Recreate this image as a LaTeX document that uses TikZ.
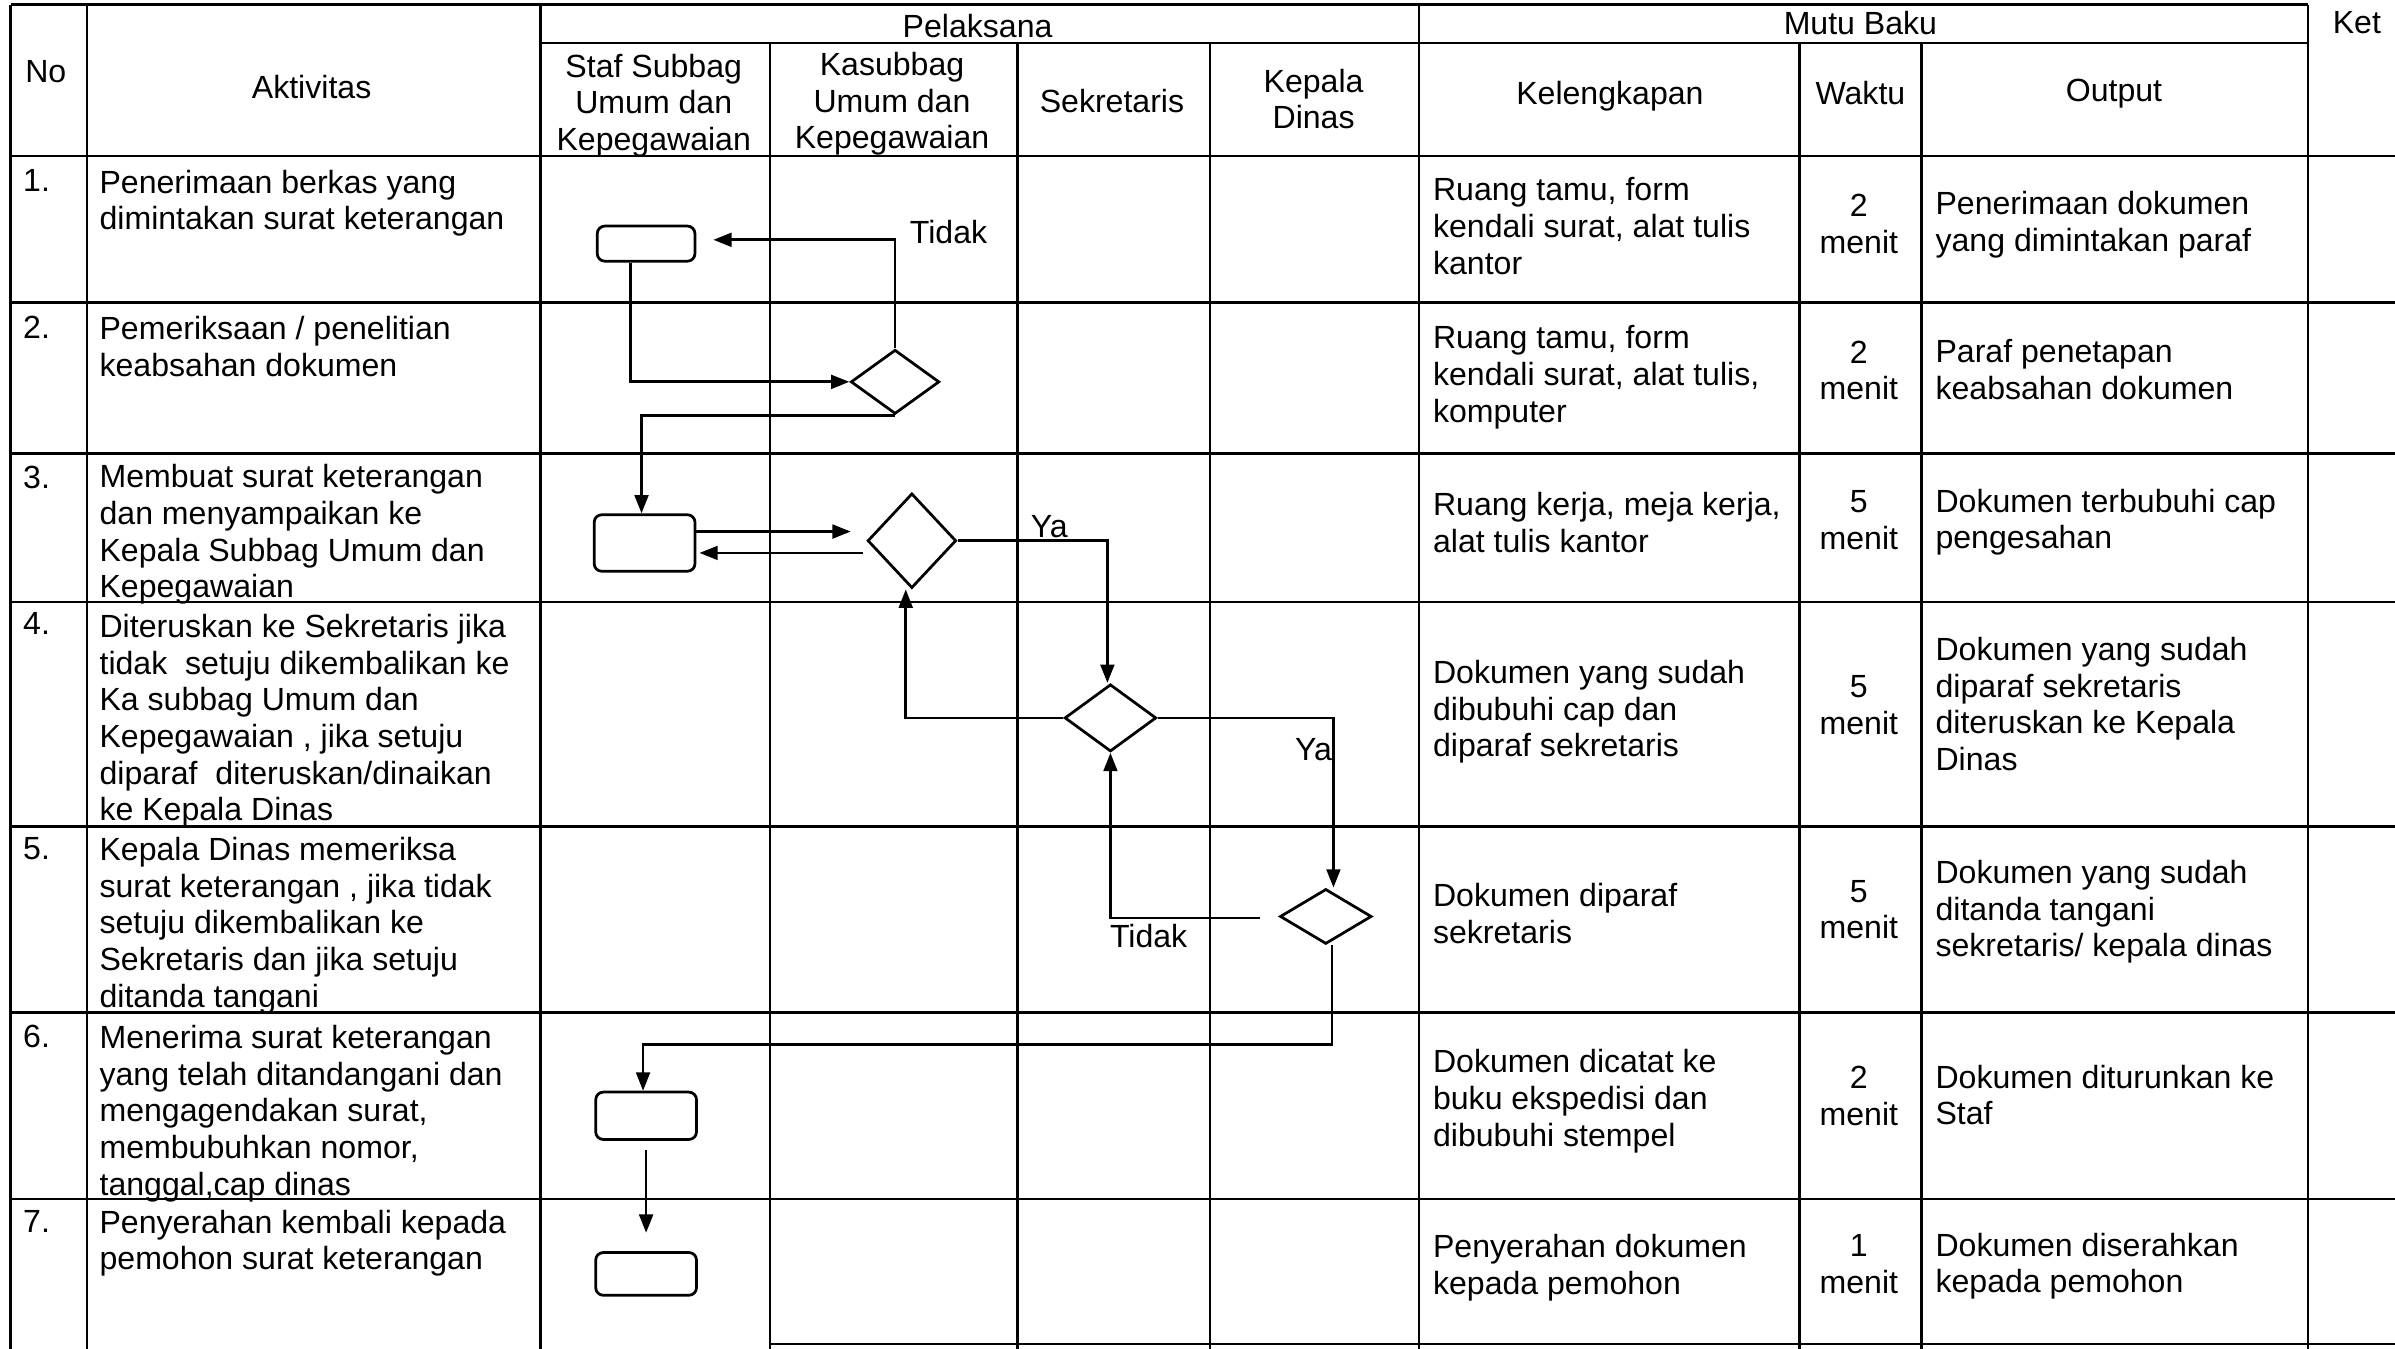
\documentclass[tikz,border=0pt]{standalone}
\usepackage{fontspec}
\setmainfont{Liberation Sans}
\usetikzlibrary{shapes.geometric, arrows.meta, positioning, calc}

\begin{document}
\begin{tikzpicture}[
    x=1pt, y=-1pt,
    font=\fontsize{21}{24}\selectfont,
    tline/.style={line width=1.6pt},
    txt/.style={inner sep=0pt, anchor=north west, align=left},
    ctr/.style={inner sep=0pt, anchor=north, align=center},
    hdr/.style={inner sep=0pt, align=center},
    act/.style={rectangle, rounded corners=5pt, draw=black, line width=1.8pt, minimum width=64pt, minimum height=23pt, inner sep=0pt},
    dec/.style={diamond, draw=black, line width=1.8pt, minimum width=58pt, minimum height=42pt, inner sep=0pt},
    arrow/.style={line width=1.8pt, -{Triangle[length=12pt,width=9pt]}}
]
\useasboundingbox (0,0) rectangle (1568,883);

% Table
\draw[tline] (7,3) -- (1511,3);
\draw[tline] (354,28) -- (1511,28);
\foreach \y in {102,198,297,394,541,663,785}
    \draw[tline] (7,\y) -- (1568,\y);
\draw[tline] (504,880) -- (1568,880);
\foreach \x in {7,57,354,929,1511}
    \draw[tline] (\x,3) -- (\x,883);
\foreach \x in {504,666,792,1178,1258}
    \draw[tline] (\x,28) -- (\x,883);

% Header
\node[hdr] (hno) at (30,47) {No};
\node[hdr] (hakt) at (204,57) {Aktivitas};
\node[hdr] (hpel) at (640,17) {Pelaksana};
\node[ctr] (hstaf) at (428,35) {Staf Subbag\\Umum dan\\Kepegawaian};
\node[ctr] (hkasub) at (584,34) {Kasubbag\\Umum dan\\Kepegawaian};
\node[hdr] (hsek) at (728,66) {Sekretaris};
\node[ctr] (hkadin) at (860,45) {Kepala\\Dinas};
\node[hdr] (hmutu) at (1218,15) {Mutu Baku};
\node[hdr] (hkel) at (1054,63) {Kelengkapan};
\node[hdr] (hwaktu) at (1218,61) {Waktu};
\node[hdr] (hout) at (1384,61) {Output};
\node[hdr] (hket) at (1543,15) {Ket};

% No
\node[txt] (n1) at (15,111) {1.};
\node[txt] (n2) at (15,207) {2.};
\node[txt] (n3) at (15,305) {3.};
\node[txt] (n4) at (15,401) {4.};
\node[txt] (n5) at (15,548) {5.};
\node[txt] (n6) at (15,671) {6.};
\node[txt] (n7) at (15,792) {7.};

% Aktivitas
\node[txt] (a1) at (65,111) {Penerimaan berkas yang\\dimintakan surat keterangan};
\node[txt] (a2) at (65,207) {Pemeriksaan / penelitian\\keabsahan dokumen};
\node[txt] (a3) at (65,304) {Membuat surat keterangan\\dan menyampaikan ke\\Kepala Subbag Umum dan\\Kepegawaian};
\node[txt] (a4) at (65,402) {Diteruskan ke Sekretaris jika\\tidak\ \ setuju dikembalikan ke\\Ka subbag Umum dan\\Kepegawaian , jika setuju\\diparaf\ \ diteruskan/dinaikan\\ke Kepala Dinas};
\node[txt] (a5) at (65,548) {Kepala Dinas memeriksa\\surat keterangan , jika tidak\\setuju dikembalikan ke\\Sekretaris dan jika setuju\\ditanda tangani};
\node[txt] (a6) at (65,671) {Menerima surat keterangan\\yang telah ditandangani dan\\mengagendakan surat,\\membubuhkan nomor,\\tanggal,cap dinas};
\node[txt] (a7) at (65,792) {Penyerahan kembali kepada\\pemohon surat keterangan};

% Kelengkapan
\node[txt] (k1) at (938,116) {Ruang tamu, form\\kendali surat, alat tulis\\kantor};
\node[txt] (k2) at (938,213) {Ruang tamu, form\\kendali surat, alat tulis,\\komputer};
\node[txt] (k3) at (938,322) {Ruang kerja, meja kerja,\\alat tulis kantor};
\node[txt] (k4) at (938,432) {Dokumen yang sudah\\dibubuhi cap dan\\diparaf sekretaris};
\node[txt] (k5) at (938,578) {Dokumen diparaf\\sekretaris};
\node[txt] (k6) at (938,687) {Dokumen dicatat ke\\buku ekspedisi dan\\dibubuhi stempel};
\node[txt] (k7) at (938,808) {Penyerahan dokumen\\kepada pemohon};

% Waktu
\node[ctr] (w1) at (1217,127) {2\\menit};
\node[ctr] (w2) at (1217,223) {2\\menit};
\node[ctr] (w3) at (1217,321) {5\\menit};
\node[ctr] (w4) at (1217,442) {5\\menit};
\node[ctr] (w5) at (1217,576) {5\\menit};
\node[ctr] (w6) at (1217,698) {2\\menit};
\node[ctr] (w7) at (1217,808) {1\\menit};

% Output
\node[txt] (o1) at (1267,125) {Penerimaan dokumen\\yang dimintakan paraf};
\node[txt] (o2) at (1267,222) {Paraf penetapan\\keabsahan dokumen};
\node[txt] (o3) at (1267,320) {Dokumen terbubuhi cap\\pengesahan};
\node[txt] (o4) at (1267,417) {Dokumen yang sudah\\diparaf sekretaris\\diteruskan ke Kepala\\Dinas};
\node[txt] (o5) at (1267,563) {Dokumen yang sudah\\ditanda tangani\\sekretaris/ kepala dinas};
\node[txt] (o6) at (1267,697) {Dokumen diturunkan ke\\Staf};
\node[txt] (o7) at (1267,807) {Dokumen diserahkan\\kepada pemohon};

% Flow shapes
\node[act] (b1) at (423,159.5) {};
\node[act, minimum width=66pt, minimum height=37pt] (b3) at (422,355.5) {};
\node[act, minimum width=66pt, minimum height=31pt] (b6) at (423,730.5) {};
\node[act, minimum width=66pt, minimum height=28pt] (b7) at (423,834) {};
\node[dec] (d2) at (586,250) {};
\node[dec, minimum height=62pt] (d3) at (597,354) {};
\node[dec, minimum width=60pt, minimum height=44pt] (d4) at (727,470) {};
\node[dec, minimum width=60pt, minimum height=36pt] (d5) at (868,600) {};

% Free ends
\coordinate (t1) at (467,157);
\coordinate (c3a) at (557,348);
\coordinate (c3b) at (565,362);
\coordinate (c5) at (825,601);
\coordinate (c6) at (872,684);

% Connectors
\draw[arrow] (d2.north) |- (t1);
\draw[arrow] ([xshift=-10pt]b1.south) |- (d2.west);
\draw[arrow] (d2.south) -| ([xshift=-2pt]b3.north);
\draw[arrow] (b3.east |- c3a) -- (c3a);
\draw[arrow] (c3b) -- ([xshift=2pt]c3b -| b3.east);
\draw[arrow] (d3.east) -| ([xshift=-2pt]d4.north);
\draw[arrow] (d4.west) -| ([xshift=-4pt]d3.south);
\draw[arrow] (d4.east) -| ([xshift=5pt]d5.north);
\draw[arrow] (c5) -| (d4.south);
\draw[arrow] ([xshift=4pt]d5.south) -- ([xshift=4pt]d5.south |- c6) -| ([xshift=-2pt]b6.north);
\draw[arrow] ([yshift=-6pt]b6.south) -- ([yshift=12pt]b7.north);

% Labels
\node[hdr] (ltidak1) at (621,152) {Tidak};
\node[hdr] (lya1) at (687,345) {Ya};
\node[hdr] (lya2) at (860,491) {Ya};
\node[hdr] (ltidak2) at (752,613) {Tidak};

\end{tikzpicture}
\end{document}
